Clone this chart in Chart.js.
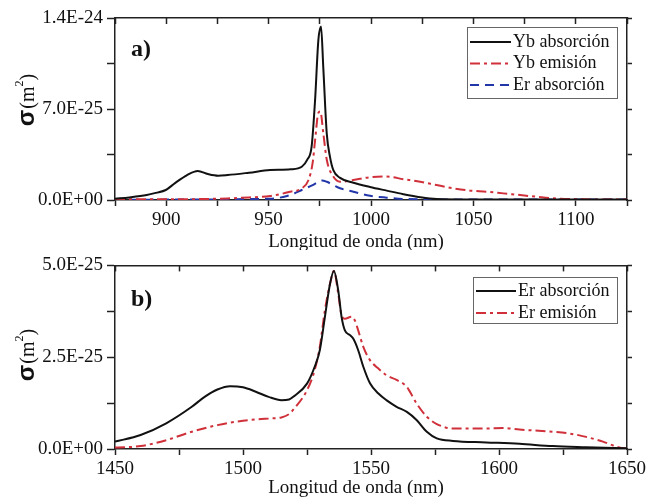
<!DOCTYPE html>
<html><head><meta charset="utf-8">
<script src="https://cdn.jsdelivr.net/npm/chart.js@4.4.0/dist/chart.umd.min.js"></script>
<style>
body{margin:0;background:#fff;}
canvas{position:absolute;left:0;display:block;}
</style>
</head><body>
<canvas id="c1" width="649" height="250" style="top:0"></canvas>
<canvas id="c2" width="649" height="250" style="top:250px"></canvas>
<script>
// ---------- Panel a) : Yb / Er near 975 nm ----------
const ybAbsX = [875,882,890.5,895,899.8,904.3,910,915.4,920.3,925.4,930,940.4,950.7,960.8,966.2,968.9,971,972.7,974.3,975.6,976.7,978.4,980,981.6,984.9,991.4,999.5,1007.7,1015.8,1024,1032,1050,1080,1125];
const ybAbsY = [0.1e-25,0.2e-25,0.38e-25,0.55e-25,0.77e-25,1.3e-25,1.9e-25,2.23e-25,2.0e-25,1.87e-25,1.92e-25,2.1e-25,2.3e-25,2.36e-25,2.56e-25,3.1e-25,4.1e-25,7.7e-25,12.3e-25,13.35e-25,10.2e-25,5.1e-25,3.3e-25,2.3e-25,1.7e-25,1.33e-25,1.0e-25,0.72e-25,0.45e-25,0.22e-25,0.08e-25,0.04e-25,0.03e-25,0.03e-25];

const ybEmX = [875,900,920,930,940.4,950.7,960.6,966.2,969.5,971.5,972.7,974.3,975.3,976.7,978.4,981.6,984.9,991.4,999.5,1007.7,1015.8,1024,1032,1040.2,1048.4,1056.5,1064.6,1072.8,1080.9,1089,1105.3,1125];
const ybEmY = [0.05e-25,0.05e-25,0.08e-25,0.12e-25,0.2e-25,0.3e-25,0.64e-25,0.9e-25,1.54e-25,2.85e-25,4.6e-25,6.7e-25,6.8e-25,5.15e-25,3.1e-25,1.8e-25,1.4e-25,1.54e-25,1.75e-25,1.8e-25,1.6e-25,1.4e-25,1.15e-25,0.9e-25,0.72e-25,0.64e-25,0.51e-25,0.38e-25,0.25e-25,0.13e-25,0.05e-25,0.03e-25];

const erAbsTopX = [875,900,930,940,950.7,960.6,966.2,971.5,974.3,976,978.4,981.6,984.9,991.4,999.5,1007.7,1015.8,1040,1125];
const erAbsTopY = [0.02e-25,0.03e-25,0.05e-25,0.08e-25,0.1e-25,0.38e-25,0.77e-25,1.15e-25,1.4e-25,1.5e-25,1.4e-25,1.15e-25,0.9e-25,0.64e-25,0.33e-25,0.18e-25,0.08e-25,0.04e-25,0.03e-25];

const xTicksA = [875,900,925,950,975,1000,1025,1050,1075,1100,1125];
const xLabelsA = ['','900','','950','','1000','','1050','','1100',''];
const yTicksA = [0,3.5e-25,7e-25,10.5e-25,14e-25];
const yLabelsA = ['0.0E+00','','7.0E-25','','1.4E-24'];

// ---------- Panel b) : Er near 1530 nm ----------
const erAbsX = [1450,1460,1470,1480,1485,1490,1495,1500,1505,1510,1515,1518,1520,1525,1528,1530,1532,1534,1535.5,1537.2,1538.5,1539.8,1541.8,1543.1,1545,1547,1549.6,1552.9,1556,1560,1564,1567.8,1571.8,1575.7,1582,1595,1608,1621,1634,1650];
const erAbsY = [0.2e-25,0.38e-25,0.7e-25,1.15e-25,1.42e-25,1.62e-25,1.71e-25,1.68e-25,1.56e-25,1.42e-25,1.33e-25,1.35e-25,1.44e-25,1.78e-25,2.24e-25,2.69e-25,3.6e-25,4.5e-25,4.85e-25,4.32e-25,3.6e-25,3.23e-25,3.1e-25,3.0e-25,2.69e-25,2.24e-25,1.79e-25,1.51e-25,1.33e-25,1.15e-25,1.01e-25,0.79e-25,0.47e-25,0.29e-25,0.22e-25,0.18e-25,0.14e-25,0.08e-25,0.05e-25,0.02e-25];

const erEmX = [1450,1460,1470,1480,1490,1500,1510,1515,1518,1520,1525,1528,1530,1532,1534,1535.5,1537.2,1538.5,1539.8,1542.4,1543.7,1545,1547,1549.6,1552.9,1556,1560,1564,1567.8,1571.8,1575.7,1582,1595,1601.6,1608,1621,1627.7,1634,1640.6,1647,1650];
const erEmY = [0.04e-25,0.08e-25,0.24e-25,0.47e-25,0.65e-25,0.77e-25,0.83e-25,0.86e-25,0.95e-25,1.1e-25,1.6e-25,2.15e-25,2.78e-25,3.78e-25,4.5e-25,4.85e-25,4.23e-25,3.64e-25,3.55e-25,3.6e-25,3.5e-25,3.23e-25,2.78e-25,2.42e-25,2.19e-25,2.01e-25,1.88e-25,1.69e-25,1.24e-25,0.88e-25,0.68e-25,0.56e-25,0.56e-25,0.57e-25,0.53e-25,0.47e-25,0.42e-25,0.33e-25,0.2e-25,0.04e-25,0.01e-25];

const xTicksB = [1450,1475,1500,1525,1550,1575,1600,1625,1650];
const xLabelsB = ['1450','','1500','','1550','','1600','','1650'];
const yTicksB = [0,1.25e-25,2.5e-25,3.75e-25,5e-25];
const yLabelsB = ['0.0E+00','','2.5E-25','','5.0E-25'];

const xTitle = 'Longitud de onda (nm)';
const BLACK = '#111111', RED = '#d0303a', BLUE = '#2236a8';
const SERIF = '"Liberation Serif", "Times New Roman", serif';

Chart.defaults.font.family = SERIF;
Chart.defaults.color = '#111';

function pts(xs, ys){ return xs.map((x,i)=>({x:x, y:ys[i]})); }

const decorPlugin = {
  id: 'decor',
  afterDraw(chart, args, o){
    const ctx = chart.ctx;
    ctx.save();
    // panel label
    ctx.font = 'bold 24px ' + SERIF;
    ctx.fillStyle = '#111';
    ctx.textBaseline = 'middle';
    ctx.textAlign = 'left';
    ctx.fillText(o.panel, 131, 50);
    // x title
    ctx.font = '19px ' + SERIF;
    ctx.textAlign = 'center';
    ctx.fillText(xTitle, 356, o.xTitleY);
    ctx.textAlign = 'left';
    // y title  σ(m²)
    ctx.save();
    ctx.translate(34, o.yTitleCenter);
    ctx.rotate(-Math.PI/2);
    ctx.textBaseline = 'alphabetic';
    const f1 = 'bold 24px "Liberation Sans", Arial, sans-serif';
    const f2 = '20px ' + SERIF;
    const f3 = '12px ' + SERIF;
    ctx.font = f1; const w1 = ctx.measureText('σ').width;
    ctx.font = f2; const w2 = ctx.measureText('(m').width;
    ctx.font = f3; const w3 = ctx.measureText('2').width;
    ctx.font = f2; const w4 = ctx.measureText(')').width;
    let x = -(w1+w2+w3+w4+1)/2;
    ctx.font = f1; ctx.fillText('σ', x, 0); x += w1 + 1;
    ctx.font = f2; ctx.fillText('(m', x, 0); x += w2;
    ctx.font = f3; ctx.fillText('2', x, -11); x += w3;
    ctx.font = f2; ctx.fillText(')', x, 0);
    ctx.restore();
    // legend
    const L = o.legend;
    ctx.fillStyle = '#fff';
    ctx.fillRect(L.x, L.y, L.w, L.h);
    ctx.strokeStyle = '#666';
    ctx.lineWidth = 1;
    ctx.strokeRect(L.x+0.5, L.y+0.5, L.w, L.h);
    ctx.font = '18px ' + SERIF;
    ctx.textBaseline = 'middle';
    chart.data.datasets.forEach((ds, i) => {
      const cy = L.y + L.first + i*L.step;
      ctx.strokeStyle = ds.borderColor;
      ctx.lineWidth = 2;
      ctx.setLineDash(ds.borderDash || []);
      ctx.beginPath();
      ctx.moveTo(L.x + 3, cy);
      ctx.lineTo(L.x + L.lineW, cy);
      ctx.stroke();
      ctx.setLineDash([]);
      ctx.fillStyle = '#111';
      ctx.fillText(ds.label, L.x + L.lineW + 2, cy);
    });
    ctx.restore();
  }
};

function makePanel(id, cfg){
  const H = 250, W = 649;
  const axisBorder = {color:'#222', width:1.5};
  const tickFont = {family: SERIF, size: 19};
  const setTicks = arr => s => { s.ticks = arr.map(v => ({value: v})); };
  return new Chart(document.getElementById(id), {
    type: 'line',
    data: { datasets: cfg.datasets.map(d => ({
      label: d.label, data: pts(d.xs, d.ys), borderColor: d.color, borderDash: d.dash,
      borderWidth: 2, pointRadius: 0, fill: false, cubicInterpolationMode: 'monotone',
      xAxisID: 'x', yAxisID: 'y'
    })) },
    options: {
      responsive: false, animation: false,
      layout: { padding: 0 },
      plugins: { legend: {display:false}, tooltip: {enabled:false}, decor: cfg.decor },
      scales: {
        x: {
          type: 'linear', position: 'bottom', min: cfg.xMin, max: cfg.xMax,
          afterFit: s => { s.height = H - cfg.area.bottom; },
          afterBuildTicks: setTicks(cfg.xTicks),
          ticks: { autoSkip:false, maxRotation:0, padding:3, font: tickFont, color:'#111',
                   callback: (v,i) => cfg.xLabels[i] },
          grid: { drawOnChartArea:false, tickLength:6, color:'#222', tickWidth:1.5 },
          border: axisBorder,
          title: { display:false }
        },
        x2: {
          type: 'linear', position: 'top', min: cfg.xMin, max: cfg.xMax,
          afterFit: s => { s.height = cfg.area.top; },
          afterBuildTicks: setTicks(cfg.xTicks),
          ticks: { display:false },
          grid: { drawOnChartArea:false, tickLength:-6, color:'#222', tickWidth:1.5 },
          border: axisBorder
        },
        y: {
          type: 'linear', position: 'left', min: 0, max: cfg.yMax,
          afterFit: s => { s.width = cfg.area.left; },
          afterBuildTicks: setTicks(cfg.yTicks),
          ticks: { autoSkip:false, padding:4, font: tickFont, color:'#111',
                   callback: (v,i) => cfg.yLabels[i] },
          grid: { drawOnChartArea:false, tickLength:8, color:'#222', tickWidth:1.5 },
          border: axisBorder
        },
        y2: {
          type: 'linear', position: 'right', min: 0, max: cfg.yMax,
          afterFit: s => { s.width = W - cfg.area.right; },
          afterBuildTicks: setTicks(cfg.yTicks),
          ticks: { display:false },
          grid: { drawOnChartArea:false, tickLength:5, color:'#222', tickWidth:1.5 },
          border: axisBorder
        }
      }
    },
    plugins: [decorPlugin]
  });
}

makePanel('c1', {
  xMin: 875, xMax: 1125, yMax: 14e-25,
  xTicks: xTicksA, xLabels: xLabelsA, yTicks: yTicksA, yLabels: yLabelsA,
  area: {left:115, right:627, top:18, bottom:200},
  datasets: [
    {label:'Yb absorción', xs: ybAbsX, ys: ybAbsY, color: BLACK, dash: []},
    {label:'Yb emisión', xs: ybEmX, ys: ybEmY, color: RED, dash: [10,4,3,4]},
    {label:'Er absorción', xs: erAbsTopX, ys: erAbsTopY, color: BLUE, dash: [9,6]}
  ],
  decor: { panel: 'a)', yTitleCenter: 100, xTitleY: 242,
           legend: {x:467, y:27, w:150, h:71, first:15, step:21.5, lineW:44} }
});

makePanel('c2', {
  xMin: 1450, xMax: 1650, yMax: 5e-25,
  xTicks: xTicksB, xLabels: xLabelsB, yTicks: yTicksB, yLabels: yLabelsB,
  area: {left:115, right:627, top:15, bottom:199},
  datasets: [
    {label:'Er absorción', xs: erAbsX, ys: erAbsY, color: BLACK, dash: []},
    {label:'Er emisión', xs: erEmX, ys: erEmY, color: RED, dash: [10,4,3,4]}
  ],
  decor: { panel: 'b)', yTitleCenter: 105, xTitleY: 238,
           legend: {x:473, y:27, w:144, h:46, first:14, step:22, lineW:43} }
});
</script>
</body></html>
